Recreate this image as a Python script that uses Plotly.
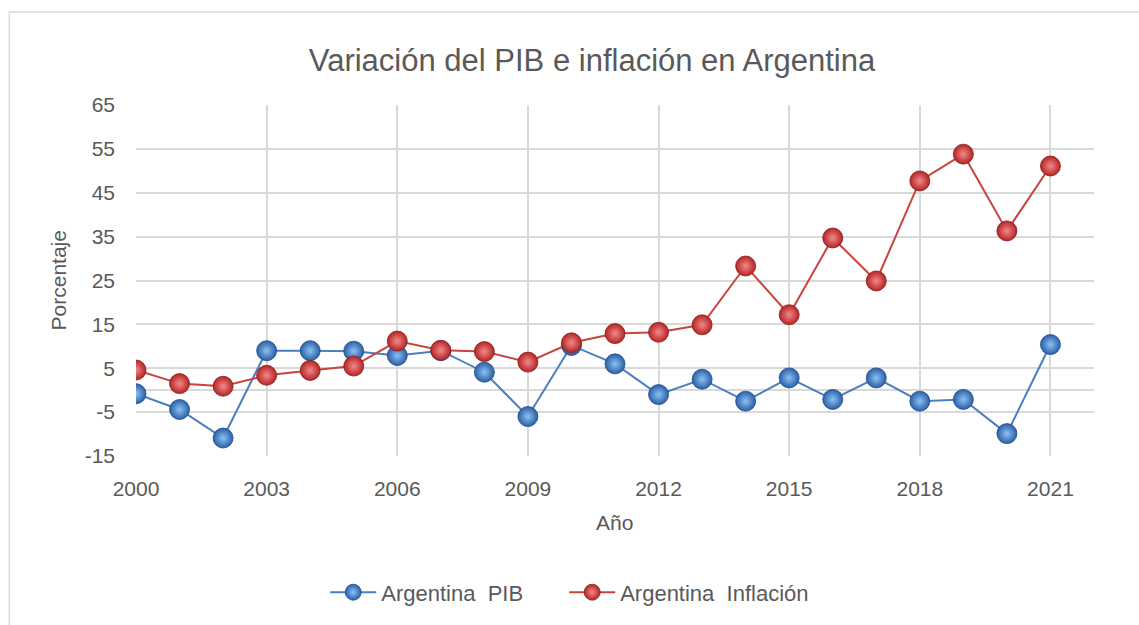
import plotly.graph_objects as go

years = list(range(2000, 2022))
pib = [-0.8, -4.4, -10.9, 9.0, 9.0, 8.9, 7.9, 9.0, 4.1, -6.0, 10.2, 6.0, -1.0, 2.5,
       -2.5, 2.8, -2.1, 2.8, -2.5, -2.1, -9.9, 10.4]
inflacion = [4.6, 1.5, 0.9, 3.4, 4.5, 5.5, 11.2, 9.1, 8.8, 6.4, 10.8, 12.9, 13.2, 14.9,
             28.3, 17.2, 34.7, 24.9, 47.7, 53.8, 36.3, 51.1]
x_ticks = [2000, 2003, 2006, 2009, 2012, 2015, 2018, 2021]
y_ticks = [-15, -5, 5, 15, 25, 35, 45, 55, 65]

title = "Variación del PIB e inflación en Argentina"
names = ["Argentina  PIB", "Argentina  Inflación"]

FONT = "Liberation Sans"
GREY = "#595959"

fig = go.Figure()
fig.add_trace(go.Scatter(
    x=years, y=pib, mode="lines+markers", name=names[0], legend="legend",
    line=dict(color="#4a7ebf", width=2),
    marker=dict(size=20, color="#2a5fa8",
                gradient=dict(type="radial", color="#8cc2f2"),
                line=dict(width=0.8, color="#1f4a85")),
))
fig.add_trace(go.Scatter(
    x=years, y=inflacion, mode="lines+markers", name=names[1], legend="legend2",
    line=dict(color="#c9433f", width=2),
    marker=dict(size=20, color="#b52424",
                gradient=dict(type="radial", color="#f28a8a"),
                line=dict(width=0.8, color="#8a1b1b")),
))

L, R, T, B = 135.7, 1094, 105, 455.7
W, H = 1139, 625
pw, ph = R - L, B - T

def px(x):
    return (x - L) / pw

def py(y):
    return (B - y) / ph

leg_common = dict(orientation="h", xanchor="left", y=py(592), yanchor="middle",
                  font=dict(size=22, color=GREY), bgcolor="rgba(0,0,0,0)", itemwidth=46)

fig.update_layout(
    width=W, height=H,
    margin=dict(l=L, r=W - R, t=T, b=H - B, pad=0),
    paper_bgcolor="white", plot_bgcolor="white",
    font=dict(family=FONT, color=GREY, size=21),
    title=dict(text=title, x=592 / W, xanchor="center", y=1 - 60 / H,
               yanchor="middle", yref="container",
               font=dict(family=FONT, size=31, color=GREY)),
    showlegend=True,
    legend=dict(x=px(325), **leg_common),
    legend2=dict(x=px(564), **leg_common),
    xaxis=dict(range=[2000, 2022], tickvals=x_ticks, ticktext=[str(v) for v in x_ticks],
               showgrid=True, gridcolor="#d9d9d9", gridwidth=1.5,
               zeroline=False, showline=False, ticks="",
               ticklabelstandoff=18, tickfont=dict(size=21, color=GREY)),
    yaxis=dict(range=[-15, 65], tickvals=y_ticks, ticktext=[str(v) for v in y_ticks],
               showgrid=True, gridcolor="#d9d9d9", gridwidth=1.5,
               zeroline=True, zerolinecolor="#d9d9d9", zerolinewidth=1.5,
               showline=False, ticks="",
               ticklabelstandoff=20, tickfont=dict(size=21, color=GREY)),
    shapes=[dict(type="rect", xref="paper", yref="paper",
                 x0=px(9), x1=px(1160), y0=py(660), y1=py(12),
                 line=dict(color="#d9d9d9", width=1.5), fillcolor="rgba(0,0,0,0)",
                 layer="below")],
    annotations=[
        dict(text="Porcentaje", xref="paper", yref="paper", x=px(58), y=py(280),
             xanchor="center", yanchor="middle", textangle=-90, showarrow=False,
             font=dict(size=21, color=GREY)),
        dict(text="Año", xref="paper", yref="paper", x=px(614), y=py(522),
             xanchor="center", yanchor="middle", showarrow=False,
             font=dict(size=21, color=GREY)),
    ],
)

fig.write_html("out.html", config={"displayModeBar": False},
               post_script="document.body.style.margin='0';document.body.style.overflow='hidden';")
